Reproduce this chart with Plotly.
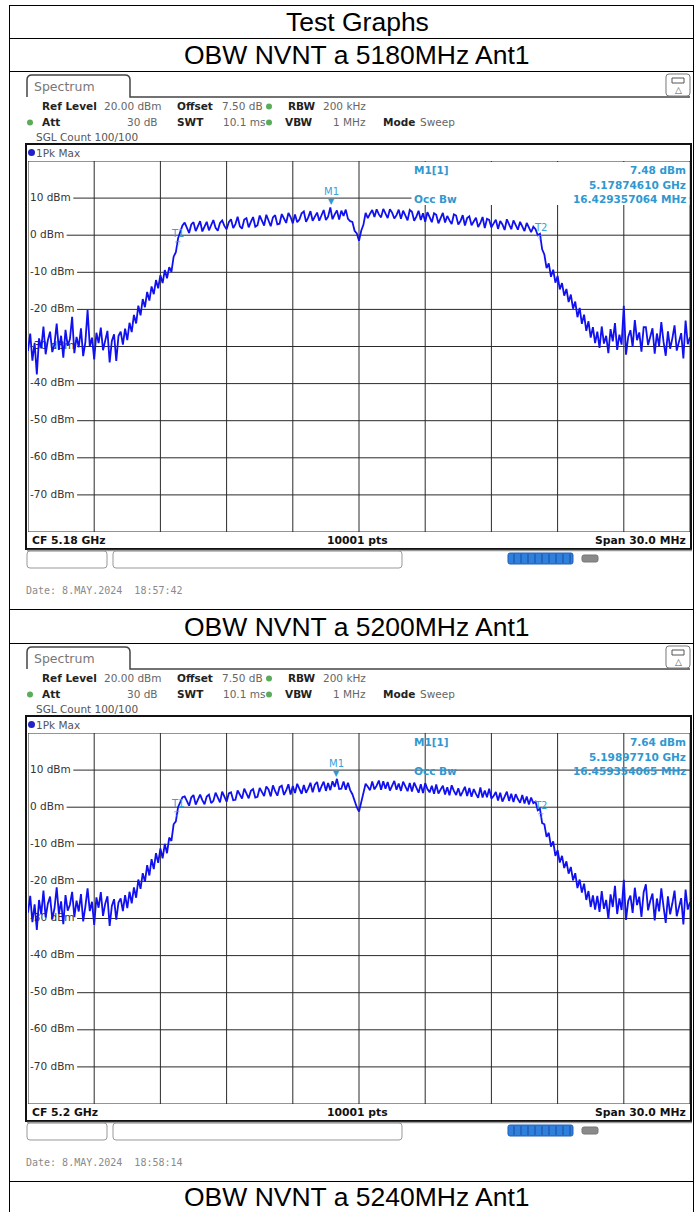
import numpy as np
import plotly.graph_objects as go

W, H = 695, 1212

# ---------------- data ----------------
page_titles = ["Test Graphs", "OBW NVNT a 5180MHz Ant1", "OBW NVNT a 5200MHz Ant1", "OBW NVNT a 5240MHz Ant1"]
center_freqs_mhz = [5180.0, 5200.0]
span_mhz = 30.0
y_range_dbm = [-80, 20]
y_tick_levels = [10, 0, -10, -20, -30, -40, -50, -60, -70]
cf_labels = ["CF 5.18 GHz", "CF 5.2 GHz"]
m1_level_dbm = [7.48, 7.64]
m1_freq_ghz = [5.17874610, 5.19897710]
occ_bw_mhz = [16.429357064, 16.459354065]
t1_offset_mhz = [-8.22, -8.23]
t2_offset_mhz = [8.21, 8.23]
dates = ["Date: 8.MAY.2024  18:57:42", "Date: 8.MAY.2024  18:58:14"]

# trace values in dBm, 0.1 MHz steps; each segment starts at the given offset from CF
seg_starts_mhz = [-15.0, -10.8, -7.9, 8.0, 10.8]

# trace 1 (5180 MHz)
a_floor_left = [-31.2, -26.5, -33.8, -29.0, -37.5, -27.8, -30.5, -24.6, -32.1, -28.3,
                -26.0, -31.5, -29.4, -23.8, -30.9, -27.1, -33.0, -25.5, -29.8, -28.0,
                -22.0, -31.8, -27.4, -30.2, -25.1, -32.6, -28.8, -20.2, -30.0, -27.6,
                -33.5, -26.3, -29.1, -24.9, -31.0, -27.9, -25.8, -34.3, -28.5, -26.7,
                -33.9, -27.2]
a_rise = [-26.0, -29.5, -25.2, -28.3, -23.6, -26.1, -21.5, -23.8, -19.0, -21.6,
          -17.2, -19.4, -15.3, -17.6, -13.8, -15.9, -12.1, -14.3, -10.8, -12.9,
          -9.4, -11.6, -8.6, -9.9, -5.8, -4.6, -0.9, 0.9, 2.6]
a_top = [3.4, 1.8, 0.6, 2.9, 3.5, 1.1, 2.4, 3.8, 1.0, 2.2,
         3.6, 1.3, 2.8, 4.1, 2.0, 1.2, 3.3, 4.0, 2.5, 1.6,
         3.5, 4.3, 1.9, 3.0, 5.0, 2.4, 1.8, 4.2, 4.6, 2.1,
         3.6, 4.9, 2.3, 2.7, 5.3, 3.8, 2.6, 5.5, 4.1, 2.4,
         4.8, 5.4, 2.9, 3.1, 5.7, 4.4, 3.3, 6.0, 4.9, 3.2,
         5.6, 3.5, 4.2, 5.9, 6.4, 3.6, 4.8, 6.5, 3.9, 5.0,
         6.1, 3.9, 5.3, 6.8, 4.1, 5.0, 7.48, 4.3, 5.6, 6.7,
         4.2, 6.6, 5.2, 6.9, 4.4, 3.8, 3.6, 1.2, 0.5, -1.5,
         1.2, 2.8, 6.0, 4.6, 5.8, 6.8, 4.9, 7.0, 5.6, 4.8,
         7.1, 5.9, 4.6, 7.0, 6.1, 4.5, 5.4, 6.9, 4.4, 6.6,
         5.3, 4.0, 6.8, 6.3, 3.9, 5.0, 6.6, 4.1, 5.9, 3.6,
         6.2, 4.9, 3.5, 5.9, 5.5, 3.2, 4.4, 6.0, 3.4, 5.2,
         4.0, 3.0, 5.6, 5.3, 2.9, 3.8, 5.4, 2.6, 4.6, 5.1,
         2.7, 3.9, 4.7, 2.2, 3.3, 4.9, 1.9, 4.4, 4.1, 2.1,
         3.2, 4.2, 1.7, 3.8, 2.9, 1.4, 4.3, 3.0, 1.6, 4.0,
         2.5, 1.5, 3.6, 2.4, 1.1, 3.3, 2.0, 0.8, 2.3]
a_fall = [1.6, 0.0, 0.4, -3.8, -5.2, -8.9, -7.6, -11.2, -9.3, -12.8,
          -11.0, -14.6, -12.9, -16.3, -14.5, -18.0, -16.0, -19.8, -17.9, -22.1,
          -19.6, -23.9, -21.4, -25.8, -23.2, -27.6, -24.8, -29.1]
a_floor_right = [-26.0, -30.4, -24.6, -29.2, -27.1, -31.8, -25.3, -28.6, -23.7, -30.9,
                 -26.8, -29.5, -19.0, -32.2, -27.4, -25.6, -30.1, -22.9, -28.3, -26.2,
                 -31.4, -24.8, -24.8, -29.6, -27.0, -25.1, -31.9, -26.5, -29.9, -23.4,
                 -28.7, -32.5, -25.9, -30.6, -27.8, -24.3, -31.1, -28.9, -26.4, -33.2,
                 -23.0, -29.4, -27.5]

# trace 2 (5200 MHz)
b_floor_left = [-28.4, -23.9, -31.0, -26.2, -33.1, -25.0, -28.9, -22.5, -29.7, -26.0,
                -24.1, -30.2, -27.3, -21.6, -28.8, -25.4, -31.5, -23.7, -27.9, -26.3,
                -22.8, -29.6, -25.2, -28.1, -23.4, -30.8, -26.7, -21.9, -28.0, -25.5,
                -31.7, -24.3, -27.1, -22.9, -29.3, -26.0, -24.0, -32.0, -26.6, -24.8,
                -30.3, -25.7]
b_rise = [-24.6, -28.0, -23.7, -27.2, -22.8, -25.9, -21.6, -24.4, -19.5, -22.0,
          -17.8, -20.1, -15.6, -18.4, -14.0, -16.7, -12.4, -15.0, -11.1, -13.8,
          -9.9, -12.4, -8.2, -9.1, -4.6, -3.8, 0.0, 1.2, 2.7]
b_top = [2.9, 1.5, 0.4, 2.6, 3.3, 0.7, 2.0, 3.4, 1.9, 0.8,
         2.9, 3.4, 1.1, 1.7, 3.9, 2.6, 1.3, 4.2, 3.0, 1.5,
         3.7, 4.0, 1.9, 2.0, 4.5, 3.4, 2.3, 5.0, 3.8, 2.4,
         4.4, 4.9, 2.6, 2.8, 5.2, 4.1, 3.0, 5.6, 4.8, 2.9,
         5.9, 4.3, 3.1, 5.4, 5.8, 3.3, 4.5, 6.2, 3.4, 5.7,
         3.8, 6.3, 4.9, 3.6, 6.0, 3.9, 5.1, 6.6, 4.0, 6.1,
         6.8, 4.1, 5.6, 6.9, 4.4, 6.5, 4.6, 7.0, 5.5, 7.64,
         4.9, 5.0, 6.9, 4.7, 6.6, 4.6, 3.5, 1.5, 0.0, -1.2,
         1.4, 3.2, 6.3, 5.5, 4.6, 6.9, 4.8, 5.8, 7.2, 4.7,
         7.0, 5.0, 6.8, 4.5, 5.7, 7.1, 4.7, 6.4, 4.4, 6.9,
         5.6, 4.3, 6.5, 4.2, 6.6, 5.1, 3.9, 6.2, 3.8, 6.5,
         4.9, 4.0, 5.8, 3.6, 6.1, 3.7, 4.6, 5.8, 3.4, 5.4,
         3.2, 5.9, 4.4, 3.3, 5.1, 3.0, 4.2, 5.5, 3.0, 5.2,
         2.8, 4.9, 3.6, 2.5, 5.3, 2.6, 4.5, 2.7, 5.0, 2.3,
         3.0, 4.1, 1.8, 3.9, 1.5, 2.8, 4.2, 1.7, 3.6, 1.4,
         3.5, 2.2, 1.2, 3.3, 1.0, 2.9, 0.7, 2.6, 1.1]
b_fall = [1.5, -0.8, -0.4, -4.3, -4.6, -8.0, -6.9, -10.6, -9.2, -13.1,
          -11.6, -14.9, -13.1, -16.4, -14.6, -17.9, -16.1, -19.7, -17.8, -21.8,
          -19.5, -23.0, -20.6, -25.0, -22.6, -26.9, -23.8, -27.6]
b_floor_right = [-23.9, -28.2, -22.6, -27.4, -25.0, -30.1, -23.5, -26.9, -21.2, -28.8,
                 -24.6, -27.7, -19.6, -30.4, -25.3, -23.8, -28.5, -21.7, -26.4, -24.1,
                 -29.6, -22.9, -20.8, -27.8, -25.2, -23.3, -30.5, -24.6, -28.1, -21.9,
                 -26.8, -31.2, -24.0, -28.9, -25.9, -22.5, -29.4, -27.0, -24.5, -31.6,
                 -22.2, -27.6, -25.6]

traces_segments = [
    [a_floor_left, a_rise, a_top, a_fall, a_floor_right],
    [b_floor_left, b_rise, b_top, b_fall, b_floor_right],
]

# ---------------- geometry ----------------
PL, PR = 28, 690
PTOP = [161, 733]
PBOT = [532, 1104]
DY = [0, 572]

BLUE_TXT = "#2f98d0"
TRACE_BLUE = "#1010f0"
FONT = "DejaVu Sans"

shapes, anns = [], []


def pp(x, y):
    return x / W, 1 - y / H


def P(x, y):
    u, v = pp(x, y)
    return f"{u:.6f},{v:.6f}"


def pline(x0, y0, x1, y1, color="#000", width=1):
    a, b = pp(x0, y0)
    c, d = pp(x1, y1)
    shapes.append(dict(type="line", xref="paper", yref="paper", x0=a, y0=b, x1=c, y1=d,
                       line=dict(color=color, width=width), layer="above"))


def prect(x0, y0, x1, y1, color="#000", width=1, fill="rgba(0,0,0,0)", r=0):
    if r == 0:
        a, b = pp(x0, y0)
        c, d = pp(x1, y1)
        shapes.append(dict(type="rect", xref="paper", yref="paper", x0=a, y0=b, x1=c, y1=d,
                           line=dict(color=color, width=width), fillcolor=fill, layer="above"))
    else:
        path = (f"M {P(x0 + r, y0)} L {P(x1 - r, y0)} Q {P(x1, y0)} {P(x1, y0 + r)} "
                f"L {P(x1, y1 - r)} Q {P(x1, y1)} {P(x1 - r, y1)} L {P(x0 + r, y1)} "
                f"Q {P(x0, y1)} {P(x0, y1 - r)} L {P(x0, y0 + r)} Q {P(x0, y0)} {P(x0 + r, y0)} Z")
        shapes.append(dict(type="path", xref="paper", yref="paper", path=path,
                           line=dict(color=color, width=width), fillcolor=fill, layer="above"))


def pcircle(cx, cy, r, fill):
    a, b = pp(cx - r, cy - r)
    c, d = pp(cx + r, cy + r)
    shapes.append(dict(type="circle", xref="paper", yref="paper", x0=a, y0=d, x1=c, y1=b,
                       line=dict(width=0), fillcolor=fill, layer="above"))


def text(x, y, s, size=10.5, color="#333", bold=False, family=FONT, xa="left", ya="middle"):
    u, v = pp(x, y)
    anns.append(dict(x=u, y=v, xref="paper", yref="paper", text=f"<b>{s}</b>" if bold else s,
                     showarrow=False, xanchor=xa, yanchor=ya, borderpad=0,
                     font=dict(size=size, color=color, family=family)))


# ---------- page table ----------
TL, TR = 9.5, 693.5
pline(TL, 5, TL, H, width=1)
pline(TR, 5, TR, H, width=1)
for yy in [5.5, 38.5, 71.5, 609.5, 643.5, 1181.5]:
    pline(TL, yy, TR, yy, width=1)
for s, yy in zip(page_titles, [22, 55, 627, 1196.5]):
    text(357, yy, s, size=26.5, color="#000", family="Liberation Sans", xa="center")

fig = go.Figure()

label_w = {"-": 0.361, " ": 0.318, "d": 0.635, "B": 0.686, "m": 0.974}

for k in range(2):
    dy = DY[k]
    cf = center_freqs_mhz[k]
    f0, f1 = cf - span_mhz / 2, cf + span_mhz / 2
    top, bot = PTOP[k], PBOT[k]
    xa = "x" if k == 0 else "x2"
    ya = "y" if k == 0 else "y2"

    def fx(px_):
        return f0 + (px_ - PL) * span_mhz / (PR - PL)

    def dbm(py_):
        return y_range_dbm[1] - (py_ - top) * (y_range_dbm[1] - y_range_dbm[0]) / (bot - top)

    # ---- spectrum tab & header ----
    path = (f"M {P(27, 97 + dy)} L {P(27, 80 + dy)} Q {P(27, 75 + dy)} {P(32, 75 + dy)} "
            f"L {P(125, 75 + dy)} Q {P(130, 75 + dy)} {P(130, 80 + dy)} L {P(130, 97 + dy)} "
            f"L {P(690, 97 + dy)}")
    shapes.append(dict(type="path", xref="paper", yref="paper", path=path,
                       line=dict(color="#444", width=1.5), layer="above"))
    text(33, 86 + dy, "Spectrum", size=12.5, color="#777")
    prect(666, 74 + dy, 690, 96 + dy, color="#777", width=1, fill="#fff", r=3)
    prect(672, 78 + dy, 684, 83 + dy, color="#555", width=1, fill="#fff")
    text(678, 90 + dy, "△", size=9, color="#555", xa="center")

    text(41, 106 + dy, "Ref Level", bold=True, color="#222")
    text(103, 106 + dy, "20.00 dBm", color="#666")
    text(176, 106 + dy, "Offset", bold=True, color="#222")
    text(221, 106 + dy, "7.50 dB", color="#666")
    pcircle(269, 106.5 + dy, 3, "#5cab5c")
    text(287, 106 + dy, "RBW", bold=True, color="#222")
    text(322, 106 + dy, "200 kHz", color="#666")

    pcircle(30, 122.5 + dy, 3, "#5cab5c")
    text(41, 122 + dy, "Att", bold=True, color="#222")
    text(159, 122 + dy, "30 dB", color="#666", xa="right")
    text(176, 122 + dy, "SWT", bold=True, color="#222")
    text(222, 122 + dy, "10.1 ms", color="#666")
    pcircle(269, 122.5 + dy, 3, "#5cab5c")
    text(284, 122 + dy, "VBW", bold=True, color="#222")
    text(367, 122 + dy, "1 MHz", color="#666", xa="right")
    text(382, 122 + dy, "Mode", bold=True, color="#222")
    text(419, 122 + dy, "Sweep", color="#666")
    text(35, 137 + dy, "SGL Count 100/100", color="#555")

    # ---- frame ----
    prect(26, 144 + dy, 691, 549 + dy, color="#111", width=2)
    pline(27, 550.5 + dy, 692, 550.5 + dy, color="#999", width=1.5)
    pcircle(31.5, 152.5 + dy, 3.5, "#2222c8")
    text(35, 152.5 + dy, "1Pk Max", color="#555")

    # bottom bar
    text(31, 540.5 + dy, cf_labels[k], bold=True, color="#111", size=10.8)
    text(357, 540.5 + dy, "10001 pts", bold=True, color="#111", size=10.8, xa="center")
    text(687, 540.5 + dy, f"Span {span_mhz:.1f} MHz", bold=True, color="#111", size=10.8, xa="right")

    # boxes under the frame
    prect(27, 551 + dy, 107, 568 + dy, color="#999", width=1, r=3)
    prect(113, 551 + dy, 402, 568 + dy, color="#999", width=1, r=3)
    prect(508, 553 + dy, 573, 564 + dy, color="#1f5fb8", width=1, fill="#2f7fdc", r=2)
    for xx in range(514, 573, 7):
        pline(xx, 554 + dy, xx, 563 + dy, color="#1b4f9c", width=1)
    prect(582, 555 + dy, 598, 562 + dy, color="#777", width=1, fill="#8a8a8a", r=2)
    text(25, 590 + dy, dates[k], size=10, color="#8a8a8a", family="DejaVu Sans Mono")

    # ---- grid (data coordinates, below traces) ----
    for lvl in range(y_range_dbm[0], y_range_dbm[1] + 1, 10):
        if lvl in y_tick_levels:
            s = f"{lvl} dBm"
            wpx = sum(label_w.get(c, 0.636) for c in s) * 10.5
            xs = fx(31 + wpx + 1.5)
        else:
            xs = f0
        shapes.append(dict(type="line", xref=xa, yref=ya, x0=xs, x1=f1, y0=lvl, y1=lvl,
                           line=dict(color="#2a2a2a", width=1), layer="between"))
    for j in range(0, 11):
        fv = f0 + j * span_mhz / 10
        shapes.append(dict(type="line", xref=xa, yref=ya, x0=fv, x1=fv,
                           y0=y_range_dbm[0], y1=y_range_dbm[1],
                           line=dict(color="#2a2a2a", width=1), layer="between"))
    # marker info area (white, covers grid)
    shapes.append(dict(type="rect", xref=xa, yref=ya, x0=fx(411.5), x1=fx(689.5),
                       y0=dbm(205), y1=dbm(162), line=dict(width=0), fillcolor="#fff",
                       layer="between"))

    # y labels as text trace (so that the spectrum trace covers them)
    fig.add_trace(go.Scatter(x=[fx(30)] * len(y_tick_levels), y=y_tick_levels, mode="text",
                             text=[f"{v} dBm" for v in y_tick_levels],
                             textposition="middle right", cliponaxis=False,
                             textfont=dict(family=FONT, size=10.5, color="#333"),
                             xaxis=xa, yaxis=ya, hoverinfo="skip", showlegend=False))

    # ---- spectrum trace ----
    fr, vals = [], []
    for st, seg in zip(seg_starts_mhz, traces_segments[k]):
        for i, v in enumerate(seg):
            fr.append(cf + st + 0.1 * i)
            vals.append(v)
    fr = np.array(fr)
    vals = np.array(vals)
    fig.add_trace(go.Scatter(x=fr, y=vals, mode="lines",
                             line=dict(color=TRACE_BLUE, width=1.8),
                             xaxis=xa, yaxis=ya, hoverinfo="skip", showlegend=False))

    # ---- markers ----
    m1f = m1_freq_ghz[k] * 1000
    anns.append(dict(x=m1f, y=m1_level_dbm[k], xref=xa, yref=ya, text="▼", showarrow=False,
                     yanchor="bottom", yshift=0, borderpad=0,
                     font=dict(size=8, color="#2a9ad6", family=FONT)))
    anns.append(dict(x=m1f, y=m1_level_dbm[k], xref=xa, yref=ya, text="M1", showarrow=False,
                     yanchor="bottom", yshift=9, borderpad=0,
                     font=dict(size=10, color="#3aa0d8", family=FONT)))
    for lab, off in [("T1", t1_offset_mhz[k]), ("T2", t2_offset_mhz[k])]:
        tf = cf + off
        tv = float(np.interp(tf, fr, vals))
        anns.append(dict(x=tf, y=tv, xref=xa, yref=ya, text="▽", showarrow=False,
                         yanchor="top", yshift=2, borderpad=0,
                         font=dict(size=7, color="#3aa0d8", family=FONT)))
        anns.append(dict(x=tf, y=tv, xref=xa, yref=ya, text=lab, showarrow=False,
                         yanchor="bottom", yshift=1, borderpad=0,
                         font=dict(size=10, color="#3aa0d8", family=FONT)))

    # marker info
    text(413, 170 + dy, "M1[1]", bold=True, color=BLUE_TXT)
    text(687, 170 + dy, f"{m1_level_dbm[k]:.2f} dBm", bold=True, color=BLUE_TXT, xa="right")
    text(687, 184.5 + dy, f"{m1_freq_ghz[k]:.8f} GHz", bold=True, color=BLUE_TXT, xa="right")
    text(413, 199 + dy, "Occ Bw", bold=True, color=BLUE_TXT)
    text(687, 199 + dy, f"{occ_bw_mhz[k]:.9f} MHz", bold=True, color=BLUE_TXT, xa="right")

fig.update_layout(
    width=W, height=H, margin=dict(l=0, r=0, t=0, b=0),
    paper_bgcolor="#fff", plot_bgcolor="#fff", showlegend=False,
    xaxis=dict(domain=[PL / W, PR / W], range=[5165, 5195], visible=False, fixedrange=True),
    yaxis=dict(domain=[1 - PBOT[0] / H, 1 - PTOP[0] / H], range=y_range_dbm, visible=False,
               fixedrange=True),
    xaxis2=dict(domain=[PL / W, PR / W], range=[5185, 5215], visible=False, anchor="y2",
                fixedrange=True),
    yaxis2=dict(domain=[1 - PBOT[1] / H, 1 - PTOP[1] / H], range=y_range_dbm, visible=False,
                anchor="x2", fixedrange=True),
    shapes=shapes, annotations=anns,
)

fig.write_html("out.html", config={"displayModeBar": False},
               post_script="document.body.style.margin='0';document.body.style.padding='0';"
                           "document.body.style.overflow='hidden';")
